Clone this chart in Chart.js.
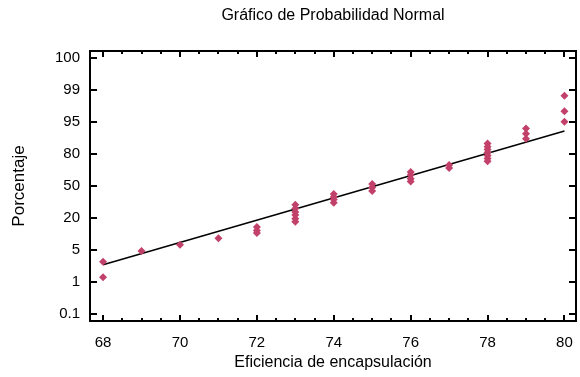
<!DOCTYPE html>
<html>
<head>
<meta charset="utf-8">
<script src="https://cdn.jsdelivr.net/npm/chart.js@4/dist/chart.umd.min.js"></script>
<style>
  body { margin: 0; background: #fff; }
  #grafico { display: block; }
</style>
</head>
<body>
<canvas id="grafico" width="580" height="377"></canvas>
<script>
// eficiencia de cada observacion y su posicion en la escala de probabilidad
// (0 = 0.1 %, 1 = 1 %, ... 8 = 100 %)
var eficiencia = [68, 68, 69, 70, 71,
    72, 72, 72,
    73, 73, 73, 73, 73, 73,
    74, 74, 74, 74,
    75, 75, 75,
    76, 76, 76, 76,
    77, 77,
    78, 78, 78, 78, 78, 78, 78,
    79, 79, 79,
    80, 80, 80]
var posicion = [1.15, 1.63, 1.97, 2.16, 2.37,
    2.53, 2.61, 2.72,
    2.88, 2.98, 3.09, 3.19, 3.30, 3.41,
    3.48, 3.58, 3.66, 3.75,
    3.84, 3.95, 4.06,
    4.14, 4.23, 4.34, 4.44,
    4.56, 4.66,
    4.77, 4.86, 4.95, 5.05, 5.14, 5.23, 5.33,
    5.48, 5.63, 5.80,
    6.01, 6.34, 6.82]

// recta de referencia
var rectaX = [68, 80]
var rectaY = [1.54, 5.72]

var etiquetasY = ['0.1', '1', '5', '20', '50', '80', '95', '99', '100']
var marcasX = [68, 70, 72, 74, 76, 78, 80]

var puntos = []
for (var i = 0; i < eficiencia.length; i++) {
    puntos.push({ x: eficiencia[i], y: posicion[i] })
}
var recta = [{ x: rectaX[0], y: rectaY[0] }, { x: rectaX[1], y: rectaY[1] }]

var fuente = "'Liberation Sans', Arial, sans-serif"

// marco y marcas hacia dentro en los cuatro lados
var marco = {
    id: 'marco',
    afterDraw: function (chart) {
        var ctx = chart.ctx
        var a = chart.chartArea
        var sx = chart.scales.x
        var sy = chart.scales.y
        ctx.save()
        ctx.strokeStyle = '#000'
        ctx.lineWidth = 2
        ctx.beginPath()
        for (var v = 68; v <= 80; v += 0.5) {
            var px = Math.round(sx.getPixelForValue(v))
            var largo = (v % 2 === 0) ? 6 : 3
            ctx.moveTo(px, a.bottom)
            ctx.lineTo(px, a.bottom - largo)
            ctx.moveTo(px, a.top)
            ctx.lineTo(px, a.top + largo)
        }
        for (var k = 0; k < etiquetasY.length; k++) {
            var py = Math.round(sy.getPixelForValue(k))
            ctx.moveTo(a.left, py)
            ctx.lineTo(a.left + 7, py)
            ctx.moveTo(a.right, py)
            ctx.lineTo(a.right - 7, py)
        }
        ctx.stroke()
        ctx.strokeRect(a.left, a.top, a.right - a.left, a.bottom - a.top)

        // titulo centrado sobre el area del grafico
        ctx.fillStyle = '#000'
        ctx.font = '16px ' + fuente
        ctx.textAlign = 'center'
        ctx.textBaseline = 'middle'
        ctx.fillText('Gráfico de Probabilidad Normal', (a.left + a.right) / 2, 16)
        ctx.restore()
    }
}

var chart = new Chart(document.getElementById('grafico').getContext('2d'), {
    type: 'scatter',
    data: {
        datasets: [
            {
                label: 'Eficiencia',
                data: puntos,
                pointStyle: 'rectRot',
                pointRadius: 4,
                pointBorderWidth: 0,
                backgroundColor: '#c2416a',
                borderColor: '#c2416a',
                clip: false,
                order: 1
            },
            {
                type: 'line',
                label: 'Recta',
                data: recta,
                borderColor: '#000',
                borderWidth: 1.5,
                pointRadius: 0,
                fill: false,
                order: 2
            }
        ]
    },
    options: {
        responsive: false,
        animation: false,
        layout: { padding: { top: 51, right: 2, left: 0, bottom: 0 } },
        plugins: {
            legend: { display: false },
            tooltip: { enabled: false }
        },
        scales: {
            x: {
                type: 'linear',
                min: 67.66,
                max: 80.30,
                afterBuildTicks: function (s) {
                    s.ticks = marcasX.map(function (v) { return { value: v } })
                },
                afterFit: function (s) {
                    s.height = 56
                    s.paddingLeft = 0
                    s.paddingRight = 0
                },
                grid: { display: false, drawTicks: false },
                border: { display: false },
                ticks: {
                    color: '#000',
                    padding: 13,
                    maxRotation: 0,
                    font: { family: fuente, size: 15 }
                },
                title: {
                    display: true,
                    text: 'Eficiencia de encapsulación',
                    color: '#000',
                    padding: { top: 0, bottom: 5 },
                    font: { family: fuente, size: 16 }
                }
            },
            y: {
                type: 'linear',
                min: -0.22,
                max: 8.22,
                afterBuildTicks: function (s) {
                    s.ticks = etiquetasY.map(function (t, i) { return { value: i } })
                },
                afterFit: function (s) {
                    s.width = 90
                    s.paddingTop = 0
                    s.paddingBottom = 0
                },
                grid: { display: false, drawTicks: false },
                border: { display: false },
                ticks: {
                    color: '#000',
                    padding: 10,
                    font: { family: fuente, size: 15 },
                    callback: function (v) { return etiquetasY[v] }
                },
                title: {
                    display: true,
                    text: 'Porcentaje',
                    color: '#000',
                    padding: { top: 9, bottom: 0 },
                    font: { family: fuente, size: 17 }
                }
            }
        }
    },
    plugins: [marco]
})
</script>
</body>
</html>
